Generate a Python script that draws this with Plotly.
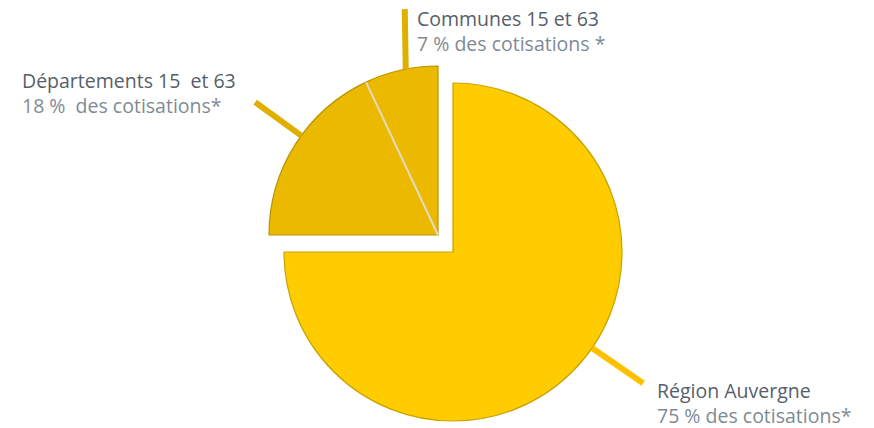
import math
import plotly.graph_objects as go

# ---- data ----
labels = ["Région Auvergne", "Départements 15  et 63", "Communes 15 et 63"]
values = [75, 18, 7]
subtitles = ["75 % des cotisations*", "18 %  des cotisations*", "7 % des cotisations *"]

# ---- style ----
W, H = 874, 428
R = 169
main_center = (453, 252)      # centre of the detached big slice (px)
small_center = (438, 235)     # centre of the two small slices (px)
col_main = "#FFCC00"
col_small = "#EBB900"
title_col = "#55606B"
sub_col = "#808A93"
leader_angle = [124.6, 306.0, 349.0]   # degrees clockwise from 12 o'clock
leader_len = [62, 57, 60]
leader_col = ["#FFC000", "#E0B000", "#E0B000"]
label_pos = [(655, 375), (20, 65), (415, 3)]   # top-left of label boxes, px


def dom(c):
    cx, cy = c
    return dict(x=[(cx - R) / W, (cx + R) / W],
                y=[(H - cy - R) / H, (H - cy + R) / H])


fig = go.Figure()
# big slice alone
fig.add_trace(go.Pie(
    labels=labels, values=values, sort=False, direction="clockwise", rotation=0,
    domain=dom(main_center), textinfo="none", hoverinfo="skip",
    marker=dict(colors=[col_main, "rgba(0,0,0,0)", "rgba(0,0,0,0)"],
                line=dict(color=["#C9A200", "rgba(0,0,0,0)", "rgba(0,0,0,0)"], width=1.2)),
))
# two small slices, detached together
fig.add_trace(go.Pie(
    labels=labels, values=values, sort=False, direction="clockwise", rotation=0,
    domain=dom(small_center), textinfo="none", hoverinfo="skip",
    marker=dict(colors=["rgba(0,0,0,0)", col_small, col_small],
                line=dict(color=["rgba(0,0,0,0)", "#B89300", "#B89300"], width=1.2)),
))
# thin light seam between the two small slices
tot = sum(values)
seam_ang = 360 * (values[0] + values[1]) / tot
sx0, sy0 = small_center
sx1 = sx0 + R * math.sin(math.radians(seam_ang))
sy1 = sy0 - R * math.cos(math.radians(seam_ang))
fig.add_shape(type="line", xref="paper", yref="paper",
              x0=sx0 / W, y0=1 - sy0 / H, x1=sx1 / W, y1=1 - sy1 / H,
              line=dict(color="#E4DCC4", width=2))

# leader lines
for i in range(len(values)):
    c = main_center if i == 0 else small_center
    a = math.radians(leader_angle[i])
    x0 = c[0] + R * math.sin(a)
    y0 = c[1] - R * math.cos(a)
    if i == 2:
        x1, y1 = x0 - 1, y0 - leader_len[i]
    else:
        x1 = x0 + leader_len[i] * math.sin(a)
        y1 = y0 - leader_len[i] * math.cos(a)
    fig.add_shape(type="line", xref="paper", yref="paper",
                  x0=x0 / W, y0=1 - y0 / H, x1=x1 / W, y1=1 - y1 / H,
                  line=dict(color=leader_col[i], width=6))

# labels
for i in range(len(values)):
    lx, ly = label_pos[i]
    fig.add_annotation(
        xref="paper", yref="paper", x=lx / W, y=1 - ly / H,
        xanchor="left", yanchor="top", align="left", showarrow=False,
        text=f"<span style='color:{title_col}'>{labels[i]}</span><br>"
             f"<span style='color:{sub_col}'>{subtitles[i]}</span>",
        font=dict(family="Open Sans", size=19.5),
    )

fig.update_layout(width=W, height=H, margin=dict(l=0, r=0, t=0, b=0),
                  paper_bgcolor="white", plot_bgcolor="white", showlegend=False)
fig.write_html("out.html")
